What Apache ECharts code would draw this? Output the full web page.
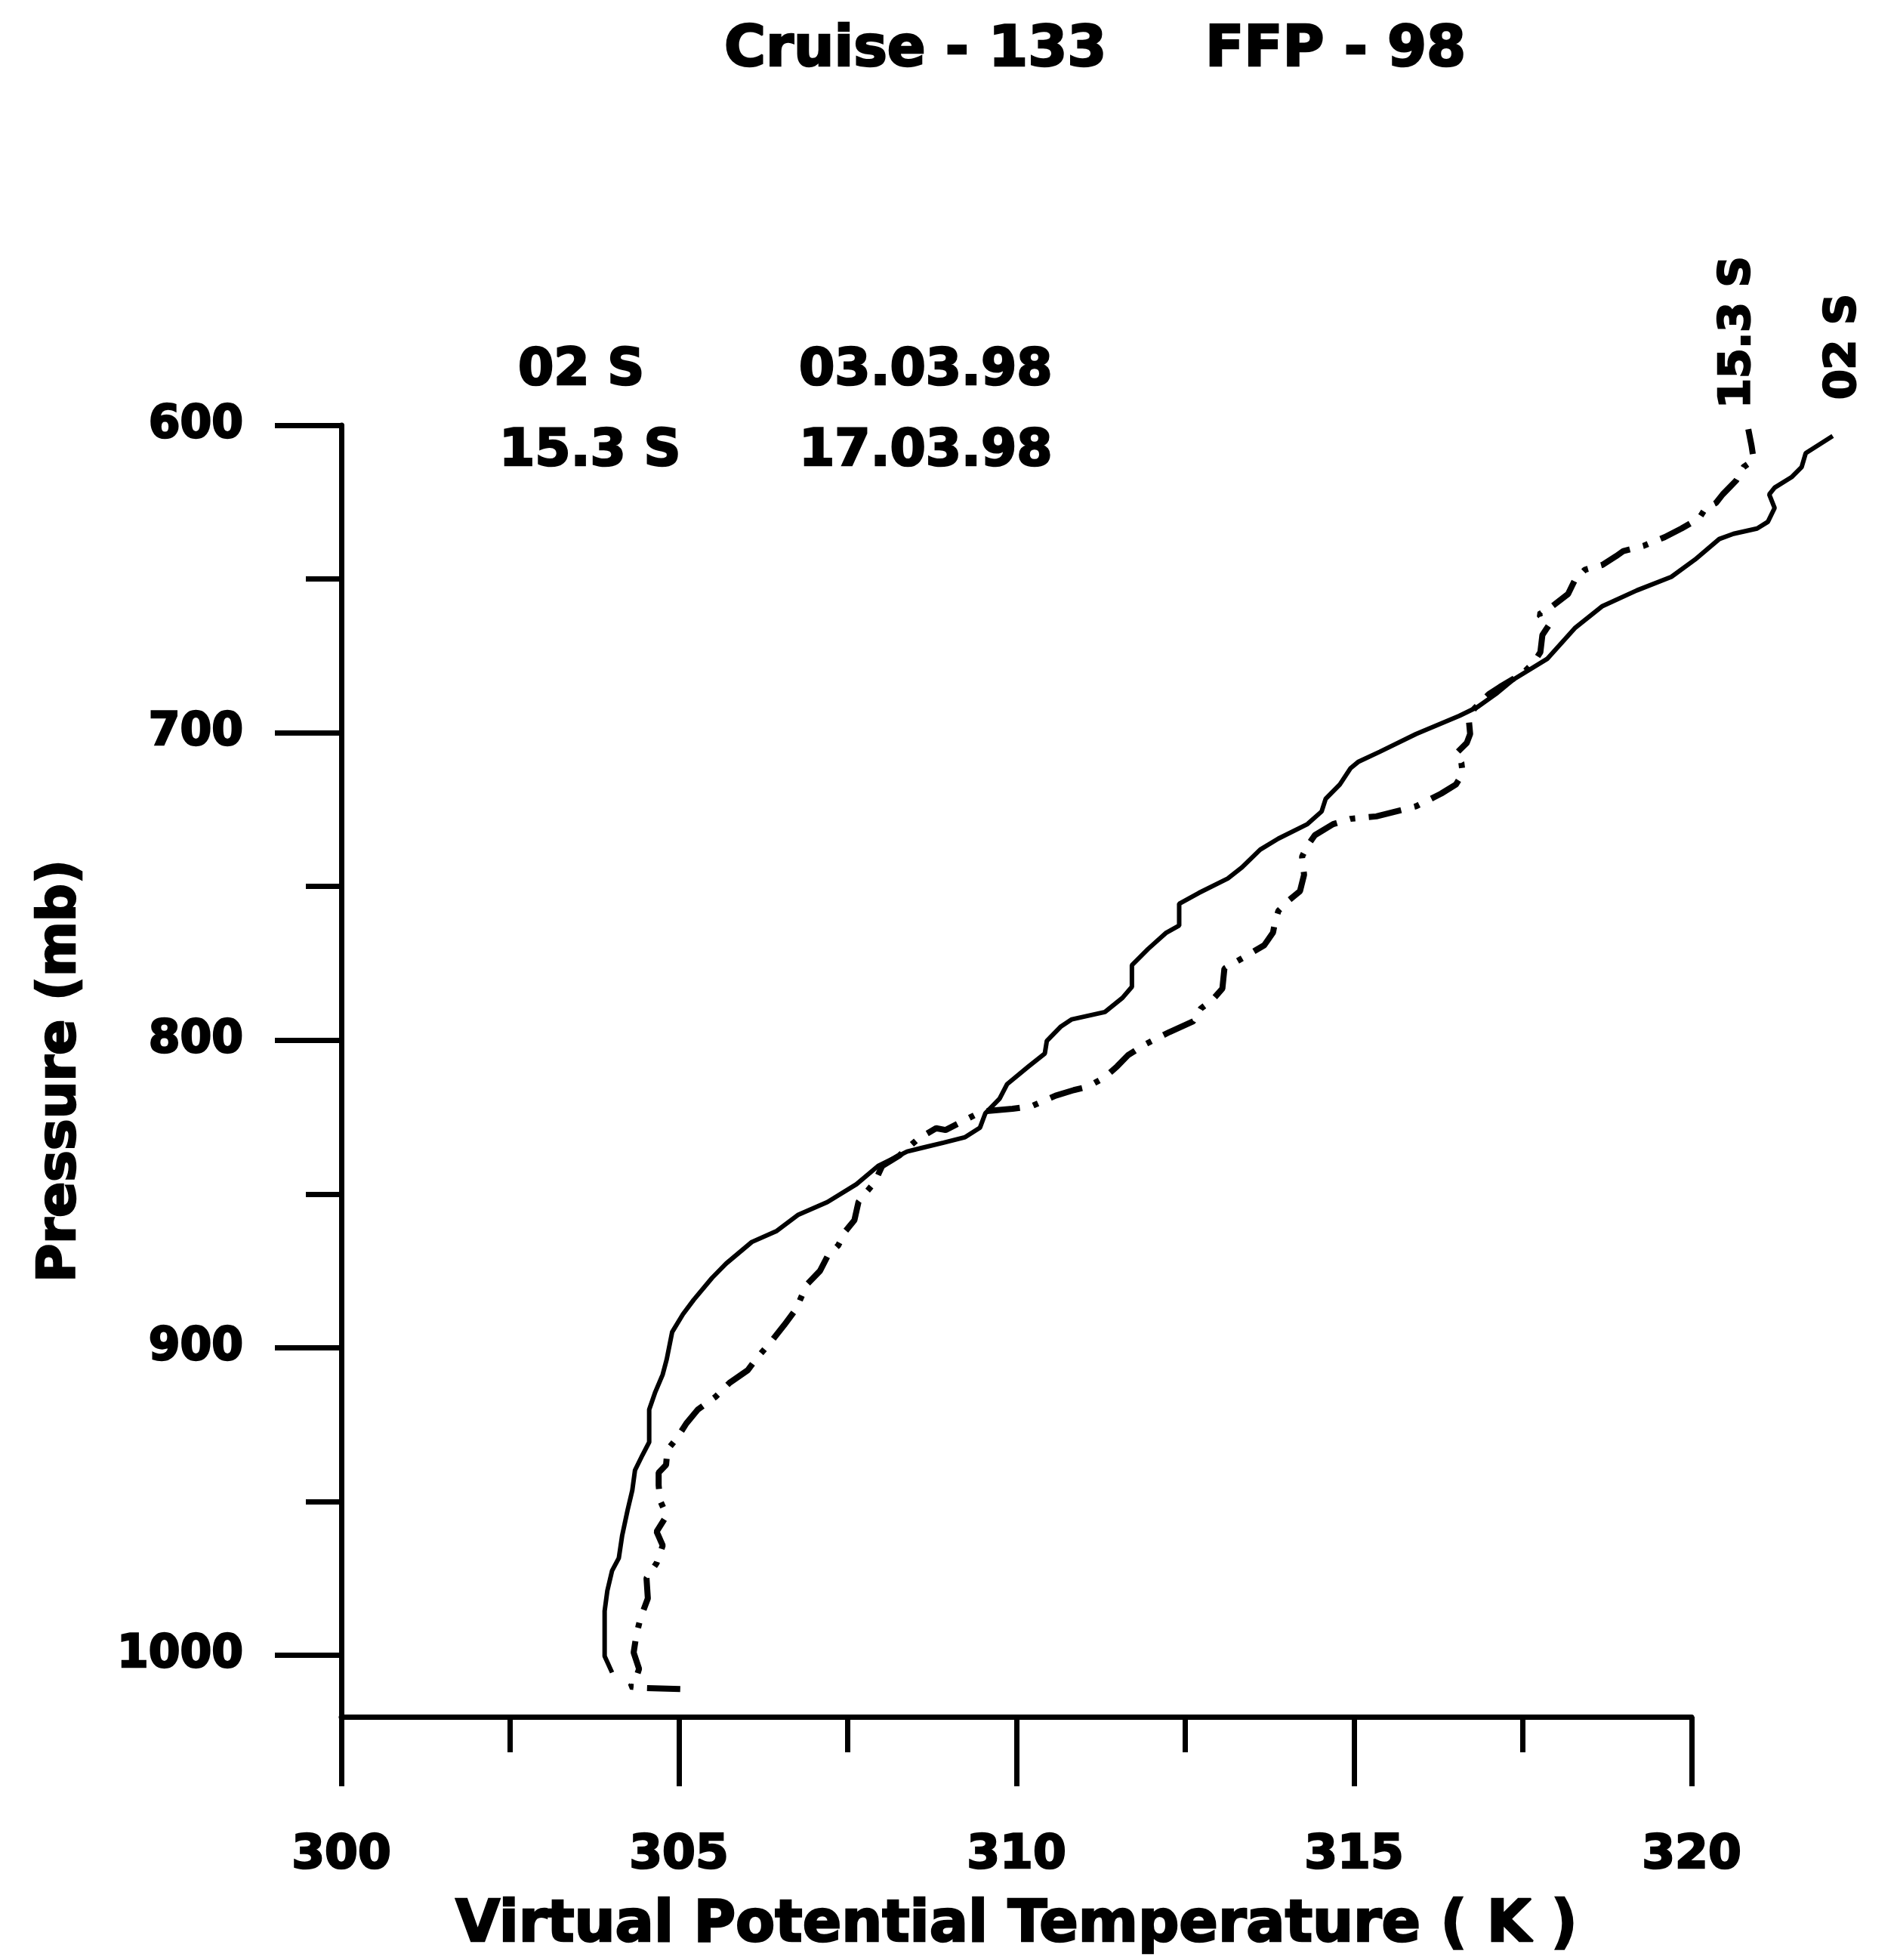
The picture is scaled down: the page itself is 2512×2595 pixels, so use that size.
<!DOCTYPE html>
<html>
<head>
<meta charset="utf-8">
<script src="https://cdn.jsdelivr.net/npm/echarts@6/dist/echarts.min.js"></script>
<style>
html,body{margin:0;padding:0;background:#fff;}
#chart{width:2512px;height:2595px;}
</style>
</head>
<body>
<div id="chart"></div>
<script>
// Virtual potential temperature (K) vs pressure (mb), 02 S profile (03.03.98) - solid
const profile02S = [
  [304.01,1005.6],[303.90,1000.3],[303.90,985.6],[303.94,979.0],[304.01,972.5],[304.11,968.4],
  [304.16,961.0],[304.24,952.8],[304.31,946.3],[304.35,939.8],[304.46,934.9],[304.56,930.7],
  [304.56,920.1],[304.65,914.4],[304.76,908.7],[304.82,903.7],[304.90,894.9],[305.06,889.1],
  [305.22,884.4],[305.49,877.3],[305.70,872.6],[306.08,865.6],[306.45,862.0],[306.77,856.7],
  [307.20,852.6],[307.63,846.8],[307.95,840.9],[308.38,836.2],[308.60,835.0],[308.92,833.3],
  [309.24,831.5],[309.46,828.4],[309.54,823.7],[309.75,819.0],[309.86,814.3],[310.18,808.5],
  [310.42,804.3],[310.45,800.2],[310.66,795.5],[310.82,793.2],[311.31,790.8],[311.57,786.2],
  [311.71,782.6],[311.71,775.6],[311.95,770.3],[312.22,765.0],[312.41,762.7],[312.41,755.6],
  [312.70,752.1],[313.13,747.4],[313.34,743.8],[313.61,738.0],[313.88,734.4],[314.31,729.7],
  [314.52,725.6],[314.58,721.5],[314.79,716.8],[314.95,711.5],[315.06,709.5],[315.38,706.2],
  [315.92,700.4],[316.56,694.5],[316.83,691.6],[317.10,687.4],[317.36,682.7],[317.86,676.0],
  [318.27,666.0],[318.68,658.8],[319.19,653.7],[319.70,649.3],[320.05,643.7],[320.41,637.0],
  [320.62,635.3],[320.97,633.6],[321.13,631.4],[321.23,626.9],[321.15,622.5],[321.23,620.3],
  [321.48,616.9],[321.63,613.6],[321.69,609.1],[322.09,603.5]
];
// 15.3 S profile (17.03.98) - dash-dot
const profile153S = [
  [305.02,1011.0],[304.46,1010.6],[304.28,1010.2],[304.35,1008.5],[304.41,1004.4],[304.33,999.1],
  [304.37,993.4],[304.43,988.0],[304.54,981.5],[304.52,974.9],[304.67,970.0],[304.76,964.3],
  [304.67,959.8],[304.82,954.5],[304.72,949.6],[304.70,944.7],[304.70,940.6],[304.81,938.1],
  [304.83,933.2],[304.98,929.1],[305.11,924.6],[305.28,920.1],[305.54,916.0],[305.75,911.4],
  [306.02,907.3],[306.14,903.7],[306.37,897.9],[306.56,892.6],[306.74,887.3],[306.83,882.6],
  [306.91,879.1],[307.09,875.0],[307.20,870.3],[307.36,866.7],[307.47,862.0],[307.60,858.5],
  [307.66,852.6],[307.74,850.3],[307.90,846.2],[308.01,840.9],[308.27,837.4],[308.54,832.1],
  [308.81,828.6],[308.95,829.2],[309.48,823.2],[309.94,822.3],[310.23,821.4],[310.58,818.0],
  [310.85,816.2],[311.06,815.1],[311.31,812.0],[311.49,808.5],[311.65,804.9],[311.90,801.4],
  [312.27,797.3],[312.62,793.8],[312.73,789.7],[312.91,786.7],[313.05,783.2],[313.08,776.7],
  [313.40,772.6],[313.67,769.1],[313.80,765.0],[313.83,761.5],[313.88,757.9],[314.04,754.4],
  [314.20,751.5],[314.26,746.2],[314.23,740.3],[314.31,736.8],[314.42,733.3],[314.69,729.7],
  [314.95,728.0],[315.33,727.2],[315.92,723.9],[316.29,719.8],[316.51,716.8],[316.61,713.3],
  [316.59,709.8],[316.51,706.8],[316.67,703.3],[316.72,700.4],[316.70,695.7],[316.78,692.2],
  [316.89,689.8],[317.00,687.4],[317.16,685.1],[317.51,680.5],[317.66,677.2],[317.76,673.8],
  [317.79,668.2],[317.89,664.9],[317.74,661.5],[317.91,659.3],[318.17,654.9],[318.27,650.4],
  [318.42,647.0],[318.68,645.4],[318.88,642.6],[318.99,640.9],[319.29,639.2],[319.60,636.4],
  [319.85,633.6],[320.11,630.3],[320.21,626.9],[320.36,625.3],[320.46,622.5],[320.66,618.0],
  [320.77,613.6],[320.92,611.3],[320.89,606.9],[320.84,601.3]
];
const pressureMajorTicks = [600, 700, 800, 900, 1000];
const pressureMinorTicks = [650, 750, 850, 950];
const titleText = 'Cruise - 133     FFP - 98';
const legendRows = [['02 S', '03.03.98'], ['15.3 S', '17.03.98']];
const curveLabels = ['15.3 S', '02 S'];

const FONT = '"DejaVu Sans", "Liberation Sans", Arial, sans-serif';
const chart = echarts.init(document.getElementById('chart'), null, {renderer: 'canvas'});

// Visible axes span 300..320 K; the profiles run a little past 320 K, so they are
// drawn on a hidden, wider axis pair with the same scale (300..322.5 K).
const T_MIN = 300, T_MAX = 320, T_DATA_MAX = 322.5;
const plotLeft = 452, plotRight = 272, plotTop = 563, plotBottom = 322;
const plotWidth = 2512 - plotLeft - plotRight;
const dataRight = 2512 - plotLeft - plotWidth * (T_DATA_MAX - T_MIN) / (T_MAX - T_MIN);
const gridRect = {left: plotLeft, right: plotRight, top: plotTop, bottom: plotBottom};
const gridData = {left: plotLeft, right: dataRight, top: plotTop, bottom: plotBottom};
const lineW = 7;
const heavy = {fontWeight: 'bold', fontFamily: FONT, color: '#000', textBorderColor: '#000', textBorderWidth: 2.5};

function gText(x, y, text, size, extra) {
  return Object.assign({
    type: 'text', x: x, y: y,
    style: {text: text, font: 'bold ' + size + 'px ' + FONT, fill: '#000', stroke: '#000', lineWidth: 2.5,
      align: 'left', verticalAlign: 'middle'}
  }, extra || {});
}

const curveLabel0 = gText(2302, 440, curveLabels[0], 57, {rotation: Math.PI / 2});
curveLabel0.style.align = 'center';
const curveLabel1 = gText(2442, 459, curveLabels[1], 57, {rotation: Math.PI / 2});
curveLabel1.style.align = 'center';

chart.setOption({
  animation: false,
  backgroundColor: '#fff',
  title: {
    text: titleText, left: 959, top: 30, padding: 0,
    textStyle: Object.assign({fontSize: 75}, heavy)
  },
  grid: [Object.assign({}, gridRect), Object.assign({}, gridRect), gridData],
  xAxis: [{
    type: 'value', gridIndex: 0, min: T_MIN, max: T_MAX, interval: 5,
    position: 'bottom',
    name: 'Virtual Potential Temperature ( K )', nameLocation: 'middle', nameGap: 239,
    nameTextStyle: Object.assign({fontSize: 76}, heavy),
    axisLine: {show: true, lineStyle: {color: '#000', width: lineW}},
    axisTick: {show: true, inside: false, length: 92, lineStyle: {color: '#000', width: lineW}},
    minorTick: {show: true, splitNumber: 2, length: 47, lineStyle: {color: '#000', width: lineW}},
    axisLabel: Object.assign({margin: 152, fontSize: 63,
      formatter: function (v) { return String(v); }}, heavy),
    splitLine: {show: false}, minorSplitLine: {show: false}
  }, {
    type: 'value', gridIndex: 1, min: T_MIN, max: T_MAX, show: false
  }, {
    type: 'value', gridIndex: 2, min: T_MIN, max: T_DATA_MAX, show: false
  }],
  yAxis: [{
    type: 'value', gridIndex: 0, min: 600, max: 1020, inverse: true,
    position: 'left',
    name: 'Pressure (mb)', nameLocation: 'middle', nameGap: 336, nameRotate: 90,
    nameTextStyle: Object.assign({fontSize: 70}, heavy),
    axisLine: {show: true, lineStyle: {color: '#000', width: lineW}},
    axisTick: {show: true, length: 88, customValues: pressureMajorTicks, lineStyle: {color: '#000', width: lineW}},
    axisLabel: Object.assign({margin: 130, customValues: pressureMajorTicks, fontSize: 60,
      formatter: function (v) { return String(v); }}, heavy),
    splitLine: {show: false}
  }, {
    type: 'value', gridIndex: 1, min: 600, max: 1020, inverse: true,
    position: 'left',
    axisLine: {show: false},
    axisTick: {show: true, length: 47, customValues: pressureMinorTicks, lineStyle: {color: '#000', width: lineW}},
    axisLabel: {show: false},
    splitLine: {show: false}
  }, {
    type: 'value', gridIndex: 2, min: 600, max: 1020, inverse: true, show: false
  }],
  series: [{
    name: '02 S', type: 'line', xAxisIndex: 2, yAxisIndex: 2, clip: false,
    data: profile02S, symbol: 'none', smooth: false,
    lineStyle: {color: '#000', width: 6, type: 'solid'}
  }, {
    name: '15.3 S', type: 'line', xAxisIndex: 2, yAxisIndex: 2, clip: false,
    data: profile153S, symbol: 'none', smooth: false,
    lineStyle: {color: '#000', width: 8, type: [44, 18, 7, 18]}
  }],
  graphic: [
    gText(686, 491, legendRows[0][0], 68),
    gText(1058, 491, legendRows[0][1], 68),
    gText(661, 598, legendRows[1][0], 68),
    gText(1058, 598, legendRows[1][1], 68),
    curveLabel0,
    curveLabel1
  ]
});
</script>
</body>
</html>
